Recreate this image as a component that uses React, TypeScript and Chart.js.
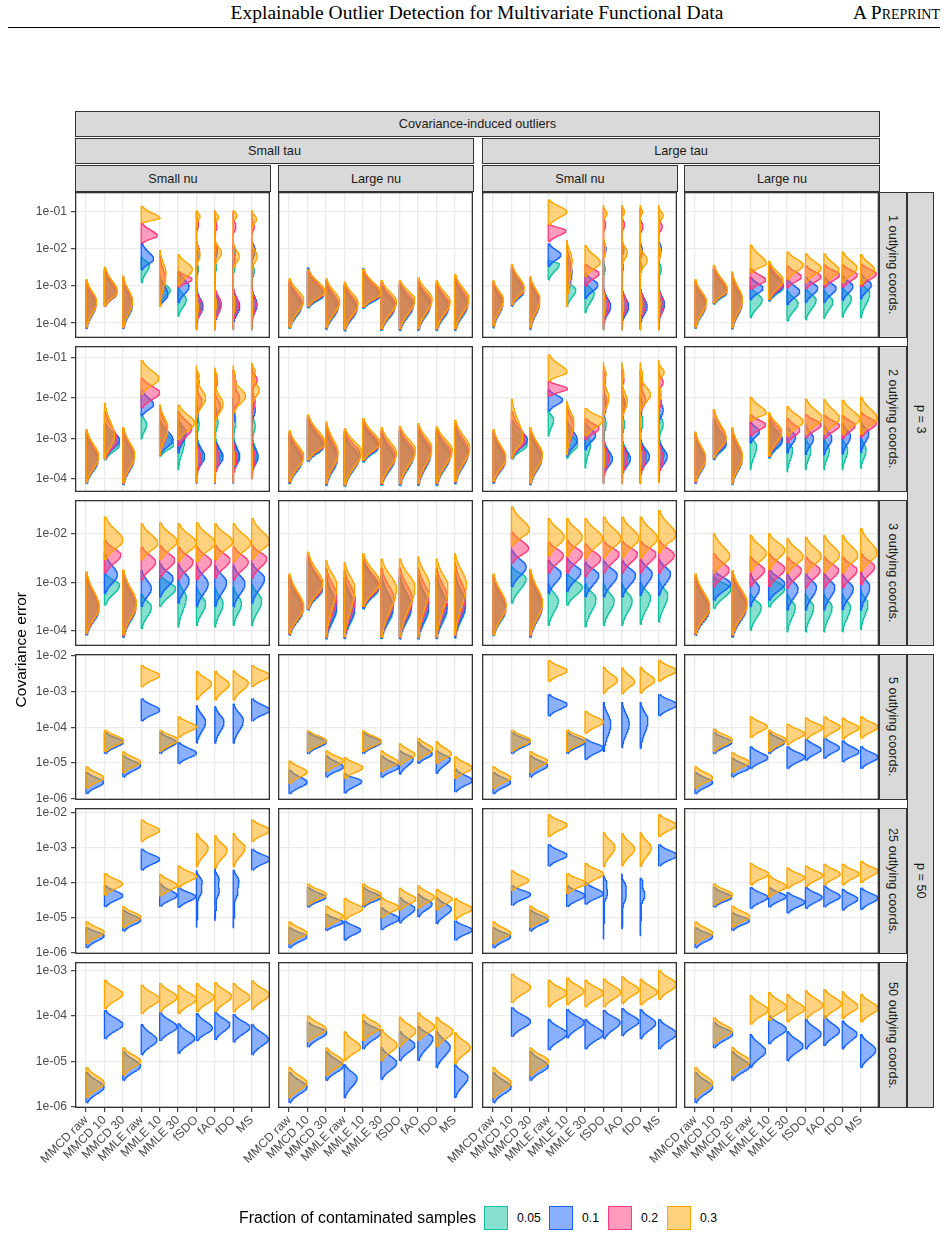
import React, { useEffect, useRef } from 'react';
import { Chart, registerables } from 'chart.js';
Chart.register(...registerables);

const SANS = '"Liberation Sans", Arial, Helvetica, sans-serif';
const SERIF = '"Liberation Serif", "Times New Roman", serif';

// ---------------- categories / labels ----------------
const CATEGORIES = ['MMCD raw', 'MMCD 10', 'MMCD 30', 'MMLE raw', 'MMLE 10', 'MMLE 30', 'fSDO', 'fAO', 'fDO', 'MS'];
const FRACTIONS = ['0.05', '0.1', '0.2', '0.3'];
const FRACTION_COLORS = ['#10C29F', '#1561FF', '#FF397B', '#FFA500'];
const FRACTION_FILLS = ['rgba(16,194,159,0.5)', 'rgba(21,97,255,0.5)', 'rgba(255,57,123,0.5)', 'rgba(255,165,0,0.5)'];
const COL_LABELS = ['Small nu', 'Large nu', 'Small nu', 'Large nu'];
const TAU_LABELS = ['Small tau', 'Large tau'];
const TOP_LABEL = 'Covariance-induced outliers';
const ROW_LABELS = ['1 outlying coords.', '2 outlying coords.', '3 outlying coords.', '5 outlying coords.', '25 outlying coords.', '50 outlying coords.'];
const P_LABELS = ['p = 3', 'p = 50'];
const Y_TITLE = 'Covariance error';
const LEGEND_TITLE = 'Fraction of contaminated samples';

// y axis limits per row (log10 of covariance error) and decade ticks
const ROW_LOG_MIN = [-4.4, -4.33, -4.32, -6.05, -6.05, -6.02];
const ROW_LOG_MAX = [-0.47, -0.71, -1.3, -1.94, -1.86, -2.82];
const ROW_DECADES = [[-4, -3, -2, -1], [-4, -3, -2, -1], [-4, -3, -2], [-6, -5, -4, -3, -2], [-6, -5, -4, -3, -2], [-6, -5, -4, -3]];
const X_MIN = 0.4;
const X_MAX = 11.0;

// ---------------- violin data ----------------
// single-mode violin: [upper end, mode, lower end, peak half-width]   (log10 values)
// multi-mode violin:  [upper end, lower end, [mode, width, sd], ...]
const R1C1_F05 = [[-2.95, -3.55, -4.15, 0.5], [-2.6, -3.22, -3.55, 0.62], [-2.85, -3.55, -4.15, 0.5], [-2.21, -2.42, -2.92, 0.45], [-2.8, -3.12, -3.45, 0.58], [-3.01, -3.37, -3.82, 0.45],
  [-2.3, -4.15, [-2.55, 0.12, 0.1], [-3.5, 0.25, 0.2]], [-2.3, -4.15, [-2.5, 0.1, 0.1], [-3.5, 0.25, 0.2]], [-2.3, -4.15, [-2.5, 0.1, 0.1], [-3.5, 0.25, 0.2]], [-2.3, -4.15, [-2.6, 0.15, 0.12], [-3.5, 0.22, 0.2]]];
const R1C1_F10 = [[-2.9, -3.5, -4.15, 0.52], [-2.55, -3.2, -3.55, 0.66], [-2.8, -3.5, -4.15, 0.5], [-1.83, -2.28, -2.57, 0.67], [-2.7, -3.24, -3.55, 0.45], [-2.6, -3.01, -3.46, 0.6],
  [-1.9, -4.18, [-2.1, 0.18, 0.15], [-3.55, 0.36, 0.2]], [-1.9, -4.18, [-2.05, 0.15, 0.15], [-3.55, 0.3, 0.2]], [-1.9, -4.18, [-2.1, 0.12, 0.15], [-3.55, 0.36, 0.2]], [-1.85, -4.18, [-2.05, 0.2, 0.15], [-3.5, 0.3, 0.2]]];
const R1C1_F20 = [[-2.85, -3.45, -4.12, 0.55], [-2.52, -3.18, -3.55, 0.68], [-2.75, -3.45, -4.13, 0.52], [-1.3, -1.65, -1.85, 0.87], [-2.2, -2.8, -3.55, 0.3], [-2.6, -2.82, -3.05, 0.76],
  [-1.0, -4.15, [-1.35, 0.12, 0.1], [-2.0, 0.1, 0.12], [-2.55, 0.08, 0.1], [-3.55, 0.3, 0.2]], [-1.0, -4.15, [-1.4, 0.12, 0.1], [-2.0, 0.1, 0.1], [-3.5, 0.36, 0.2]],
  [-1.0, -4.15, [-1.4, 0.15, 0.1], [-2.3, 0.1, 0.1], [-3.5, 0.3, 0.2]], [-1.0, -4.15, [-1.4, 0.15, 0.1], [-2.0, 0.12, 0.1], [-3.5, 0.25, 0.2]]];
const R1C1_F30 = [[-2.81, -3.42, -4.12, 0.58], [-2.48, -3.15, -3.55, 0.7], [-2.72, -3.42, -4.13, 0.53], [-0.85, -1.18, -1.31, 1.0], [-2.03, -2.66, -3.55, 0.35], [-2.14, -2.55, -3.01, 0.78],
  [-0.96, -4.18, [-1.13, 0.2, 0.08], [-2.15, 0.2, 0.15], [-3.6, 0.1, 0.2]], [-0.96, -4.18, [-1.15, 0.2, 0.08], [-2.1, 0.36, 0.15], [-3.5, 0.08, 0.2]],
  [-0.96, -4.18, [-1.1, 0.2, 0.08], [-2.2, 0.33, 0.15], [-3.5, 0.08, 0.2]], [-0.96, -4.18, [-1.2, 0.27, 0.1], [-2.2, 0.3, 0.15], [-3.5, 0.08, 0.2]]];

const R1C2_F05 = [[-2.95, -3.58, -4.16, 0.64], [-2.62, -3.27, -3.6, 0.85], [-2.95, -3.62, -4.18, 0.62], [-3.05, -3.66, -4.22, 0.64], [-2.65, -3.3, -3.62, 0.88], [-3.0, -3.62, -4.21, 0.7], [-3.0, -3.58, -4.21, 0.7], [-2.95, -3.56, -4.21, 0.64], [-3.0, -3.62, -4.21, 0.64], [-2.85, -3.56, -4.21, 0.66]];
const R1C2_F10 = [[-2.9, -3.52, -4.14, 0.68], [-2.5, -3.24, -3.58, 0.88], [-2.9, -3.56, -4.16, 0.66], [-3.0, -3.6, -4.2, 0.68], [-2.52, -3.27, -3.6, 0.92], [-2.95, -3.56, -4.19, 0.74], [-2.95, -3.52, -4.19, 0.74], [-2.9, -3.5, -4.19, 0.68], [-2.95, -3.56, -4.19, 0.68], [-2.8, -3.5, -4.19, 0.7]];
const R1C2_F20 = [[-2.85, -3.45, -4.12, 0.72], [-2.6, -3.2, -3.56, 0.9], [-2.85, -3.5, -4.14, 0.7], [-2.95, -3.55, -4.18, 0.72], [-2.6, -3.23, -3.58, 0.95], [-2.9, -3.5, -4.17, 0.78], [-2.9, -3.45, -4.17, 0.78], [-2.85, -3.43, -4.17, 0.72], [-2.9, -3.5, -4.17, 0.7], [-2.75, -3.42, -4.17, 0.74]];
const R1C2_F30 = [[-2.79, -3.37, -4.12, 0.8], [-2.54, -3.15, -3.55, 0.96], [-2.79, -3.42, -4.13, 0.76], [-2.88, -3.46, -4.17, 0.76], [-2.54, -3.19, -3.57, 1.0], [-2.84, -3.42, -4.16, 0.84], [-2.84, -3.37, -4.16, 0.84], [-2.77, -3.35, -4.16, 0.78], [-2.84, -3.42, -4.16, 0.76], [-2.68, -3.35, -4.16, 0.78]];

const R1C3_F05 = [[-2.95, -3.5, -4.14, 0.5], [-2.55, -3.18, -3.55, 0.64], [-2.86, -3.5, -4.18, 0.5], [-2.3, -2.41, -2.84, 0.6], [-2.84, -3.1, -3.55, 0.5], [-2.88, -3.19, -3.73, 0.5],
  [-2.3, -4.15, [-2.55, 0.1, 0.1], [-3.5, 0.3, 0.2]], [-2.3, -4.15, [-2.5, 0.1, 0.1], [-3.5, 0.3, 0.2]], [-2.3, -4.15, [-2.5, 0.1, 0.1], [-3.5, 0.3, 0.2]], [-2.3, -4.15, [-2.55, 0.15, 0.12], [-3.45, 0.25, 0.2]]];
const R1C3_F10 = [[-2.92, -3.46, -4.12, 0.52], [-2.5, -3.14, -3.54, 0.66], [-2.82, -3.46, -4.16, 0.5], [-1.85, -2.16, -2.48, 0.69], [-2.2, -2.6, -3.4, 0.3], [-2.65, -2.97, -3.35, 0.7],
  [-1.8, -4.18, [-2.0, 0.15, 0.12], [-3.55, 0.4, 0.2]], [-1.8, -4.18, [-2.0, 0.12, 0.12], [-3.55, 0.38, 0.2]], [-1.8, -4.18, [-2.05, 0.12, 0.12], [-3.55, 0.38, 0.2]], [-1.8, -4.18, [-2.0, 0.15, 0.12], [-3.5, 0.33, 0.2]]];
const R1C3_F20 = [[-2.88, -3.42, -4.1, 0.54], [-2.45, -3.1, -3.52, 0.68], [-2.77, -3.42, -4.14, 0.53], [-1.33, -1.51, -1.81, 0.96], [-1.9, -2.5, -3.55, 0.25], [-2.4, -2.66, -3.0, 0.76],
  [-0.9, -4.15, [-1.35, 0.12, 0.1], [-2.0, 0.1, 0.12], [-3.55, 0.3, 0.2]], [-0.9, -4.15, [-1.35, 0.15, 0.1], [-2.05, 0.1, 0.1], [-3.5, 0.3, 0.2]],
  [-0.9, -4.15, [-1.4, 0.15, 0.1], [-2.1, 0.1, 0.1], [-3.5, 0.3, 0.2]], [-0.9, -4.15, [-1.4, 0.2, 0.1], [-2.1, 0.1, 0.1], [-3.5, 0.28, 0.2]]];
const R1C3_F30 = [[-2.84, -3.37, -4.09, 0.56], [-2.41, -3.06, -3.51, 0.7], [-2.73, -3.37, -4.13, 0.55], [-0.67, -1.0, -1.36, 1.0], [-1.76, -2.3, -3.55, 0.3], [-1.9, -2.37, -2.75, 0.82],
  [-0.82, -4.18, [-1.05, 0.2, 0.08], [-2.0, 0.12, 0.15], [-3.5, 0.1, 0.2]], [-0.82, -4.18, [-1.0, 0.15, 0.08], [-2.1, 0.3, 0.15], [-3.5, 0.1, 0.2]],
  [-0.82, -4.18, [-1.0, 0.12, 0.08], [-2.3, 0.38, 0.15], [-3.5, 0.1, 0.2]], [-0.82, -4.18, [-1.1, 0.25, 0.1], [-2.1, 0.12, 0.12], [-3.5, 0.08, 0.2]]];

const R1C4_F05 = [[-2.95, -3.55, -4.15, 0.56], [-2.55, -3.2, -3.5, 0.7], [-2.75, -3.5, -4.17, 0.53], [-3.01, -3.37, -3.86, 0.65], [-2.5, -3.05, -3.42, 0.78], [-3.12, -3.46, -3.95, 0.6], [-3.05, -3.37, -3.91, 0.58], [-3.1, -3.42, -3.88, 0.5], [-3.02, -3.33, -3.84, 0.5], [-2.9, -3.19, -3.86, 0.5]];
const R1C4_F10 = [[-2.9, -3.5, -4.14, 0.58], [-2.52, -3.16, -3.48, 0.72], [-2.7, -3.45, -4.15, 0.55], [-2.75, -3.06, -3.37, 0.69], [-2.45, -3.0, -3.4, 0.8], [-2.8, -3.15, -3.51, 0.69], [-2.75, -3.06, -3.45, 0.67], [-2.75, -3.06, -3.45, 0.67], [-2.7, -3.01, -3.4, 0.58], [-2.65, -2.97, -3.35, 0.58]];
const R1C4_F20 = [[-2.86, -3.46, -4.12, 0.6], [-2.47, -3.13, -3.47, 0.74], [-2.65, -3.41, -4.14, 0.56], [-2.52, -2.84, -3.1, 0.84], [-2.4, -2.95, -3.38, 0.78], [-2.45, -2.75, -3.05, 0.78], [-2.45, -2.75, -3.08, 0.85], [-2.42, -2.7, -3.05, 0.85], [-2.42, -2.7, -3.05, 0.82], [-2.4, -2.67, -3.02, 0.85]];
const R1C4_F30 = [[-2.82, -3.42, -4.12, 0.62], [-2.43, -3.1, -3.46, 0.76], [-2.61, -3.37, -4.13, 0.58], [-1.88, -2.39, -2.66, 0.87], [-2.32, -2.84, -3.37, 0.78], [-2.07, -2.43, -2.84, 0.87], [-2.12, -2.52, -2.92, 0.85], [-2.12, -2.57, -2.97, 0.82], [-2.07, -2.52, -2.92, 0.8], [-2.14, -2.57, -2.97, 0.76]];

const R2C1_F05 = [[-2.9, -3.6, -4.12, 0.6], [-2.7, -3.16, -3.54, 0.82], [-2.85, -3.55, -4.15, 0.58], [-2.37, -2.66, -3.02, 0.3], [-2.62, -3.16, -3.45, 0.75], [-2.5, -3.04, -3.78, 0.36],
  [-2.3, -4.1, [-2.65, 0.15, 0.15], [-3.4, 0.35, 0.2]], [-2.3, -4.1, [-2.6, 0.18, 0.15], [-3.4, 0.35, 0.2]], [-2.3, -4.1, [-2.6, 0.15, 0.15], [-3.4, 0.3, 0.2]], [-2.3, -4.0, [-2.7, 0.2, 0.15], [-3.4, 0.3, 0.2]]];
const R2C1_F10 = [[-2.85, -3.55, -4.12, 0.64], [-2.62, -3.04, -3.52, 0.82], [-2.8, -3.5, -4.15, 0.6], [-1.79, -2.16, -2.45, 0.67], [-2.54, -3.04, -3.41, 0.73], [-2.5, -2.87, -3.37, 0.45],
  [-2.0, -4.12, [-2.4, 0.1, 0.15], [-3.45, 0.45, 0.18]], [-2.0, -4.12, [-2.4, 0.1, 0.15], [-3.45, 0.45, 0.18]], [-2.0, -4.12, [-2.4, 0.1, 0.15], [-3.45, 0.36, 0.18]], [-1.9, -4.0, [-2.3, 0.2, 0.15], [-3.45, 0.36, 0.18]]];
const R2C1_F20 = [[-2.8, -3.5, -4.1, 0.66], [-2.33, -3.04, -3.52, 0.7], [-2.76, -3.45, -4.13, 0.62], [-1.5, -1.87, -2.25, 1.0], [-2.2, -2.85, -3.42, 0.42], [-2.33, -2.75, -3.2, 0.75],
  [-1.3, -4.1, [-1.6, 0.15, 0.1], [-2.1, 0.3, 0.15], [-3.5, 0.25, 0.2]], [-1.3, -4.1, [-1.6, 0.15, 0.1], [-2.2, 0.3, 0.15], [-3.5, 0.25, 0.2]],
  [-1.3, -4.1, [-1.6, 0.15, 0.1], [-2.0, 0.35, 0.15], [-3.5, 0.2, 0.2]], [-1.25, -4.0, [-1.55, 0.3, 0.12], [-2.1, 0.2, 0.15], [-3.5, 0.2, 0.2]]];
const R2C1_F30 = [[-2.77, -3.45, -4.1, 0.69], [-2.12, -2.95, -3.52, 0.55], [-2.72, -3.41, -4.12, 0.65], [-1.06, -1.52, -1.91, 0.96], [-2.16, -2.75, -3.41, 0.45], [-2.16, -2.62, -3.04, 0.9],
  [-1.2, -4.1, [-1.45, 0.15, 0.08], [-2.0, 0.5, 0.2], [-3.5, 0.06, 0.2]], [-1.25, -4.1, [-1.5, 0.15, 0.1], [-2.15, 0.45, 0.2], [-3.5, 0.06, 0.2]],
  [-1.2, -4.1, [-1.45, 0.1, 0.1], [-1.95, 0.67, 0.18], [-3.5, 0.06, 0.2]], [-1.13, -4.0, [-1.35, 0.2, 0.1], [-1.8, 0.42, 0.15], [-3.5, 0.06, 0.2]]];

const R2C2_F05 = [[-2.95, -3.6, -4.14, 0.66], [-2.55, -3.25, -3.58, 0.82], [-2.78, -3.54, -4.18, 0.6], [-2.95, -3.52, -4.2, 0.76], [-2.65, -3.25, -3.6, 0.82], [-2.92, -3.55, -4.18, 0.7], [-2.88, -3.47, -4.18, 0.72], [-2.82, -3.42, -4.18, 0.66], [-2.88, -3.47, -4.18, 0.72], [-2.76, -3.42, -4.14, 0.68]];
const R2C2_F10 = [[-2.9, -3.55, -4.12, 0.7], [-2.5, -3.21, -3.57, 0.86], [-2.72, -3.49, -4.16, 0.62], [-2.9, -3.47, -4.18, 0.8], [-2.6, -3.21, -3.58, 0.85], [-2.87, -3.5, -4.16, 0.74], [-2.82, -3.42, -4.16, 0.76], [-2.77, -3.37, -4.16, 0.7], [-2.82, -3.42, -4.16, 0.76], [-2.7, -3.37, -4.12, 0.72]];
const R2C2_F20 = [[-2.85, -3.5, -4.1, 0.74], [-2.46, -3.17, -3.55, 0.9], [-2.65, -3.43, -4.14, 0.64], [-2.82, -3.4, -4.17, 0.86], [-2.56, -3.17, -3.56, 0.88], [-2.8, -3.44, -4.14, 0.78], [-2.76, -3.36, -4.14, 0.8], [-2.7, -3.31, -4.14, 0.72], [-2.76, -3.36, -4.14, 0.8], [-2.62, -3.31, -4.1, 0.76]];
const R2C2_F30 = [[-2.8, -3.45, -4.08, 0.8], [-2.41, -3.12, -3.54, 0.96], [-2.58, -3.37, -4.12, 0.67], [-2.75, -3.33, -4.16, 0.94], [-2.5, -3.12, -3.55, 0.93], [-2.72, -3.37, -4.12, 0.84], [-2.69, -3.29, -4.12, 0.87], [-2.62, -3.24, -4.12, 0.76], [-2.7, -3.29, -4.12, 0.87], [-2.54, -3.24, -4.08, 0.82]];

const R2C3_F05 = [[-2.9, -3.6, -4.12, 0.62], [-2.7, -3.16, -3.52, 0.85], [-2.85, -3.55, -4.15, 0.6], [-2.29, -2.54, -2.95, 0.3], [-2.7, -3.16, -3.5, 0.6], [-2.8, -3.12, -3.74, 0.3],
  [-2.3, -4.1, [-2.65, 0.15, 0.15], [-3.45, 0.35, 0.2]], [-2.3, -4.1, [-2.65, 0.15, 0.15], [-3.45, 0.35, 0.2]], [-2.3, -4.1, [-2.6, 0.15, 0.15], [-3.45, 0.35, 0.2]], [-2.3, -4.0, [-2.65, 0.25, 0.15], [-3.4, 0.3, 0.2]]];
const R2C3_F10 = [[-2.85, -3.56, -4.12, 0.66], [-2.54, -3.04, -3.49, 0.87], [-2.8, -3.5, -4.15, 0.64], [-1.79, -2.04, -2.33, 0.78], [-2.54, -3.04, -3.45, 0.58], [-2.62, -2.91, -3.29, 0.58],
  [-1.9, -4.12, [-2.2, 0.15, 0.15], [-3.5, 0.49, 0.18]], [-1.9, -4.12, [-2.2, 0.15, 0.15], [-3.5, 0.47, 0.18]], [-1.9, -4.12, [-2.2, 0.12, 0.15], [-3.45, 0.5, 0.18]], [-1.85, -4.05, [-2.3, 0.25, 0.15], [-3.45, 0.47, 0.18]]];
const R2C3_F20 = [[-2.8, -3.52, -4.1, 0.68], [-2.33, -3.04, -3.5, 0.75], [-2.76, -3.45, -4.13, 0.66], [-1.58, -1.77, -1.96, 1.05], [-2.2, -2.7, -3.42, 0.38], [-2.5, -2.75, -3.04, 0.76],
  [-1.3, -4.1, [-1.55, 0.12, 0.1], [-2.1, 0.2, 0.15], [-3.5, 0.3, 0.2]], [-1.3, -4.1, [-1.55, 0.12, 0.1], [-2.15, 0.2, 0.15], [-3.5, 0.3, 0.2]],
  [-1.3, -4.1, [-1.6, 0.12, 0.1], [-2.05, 0.3, 0.15], [-3.5, 0.3, 0.2]], [-1.2, -4.1, [-1.6, 0.25, 0.1], [-2.1, 0.15, 0.12], [-3.5, 0.25, 0.2]]];
const R2C3_F30 = [[-2.77, -3.49, -4.08, 0.7], [-2.02, -3.0, -3.49, 0.62], [-2.72, -3.41, -4.12, 0.69], [-0.92, -1.36, -1.58, 1.02], [-2.08, -2.58, -3.41, 0.4], [-2.25, -2.54, -2.95, 1.0],
  [-1.12, -4.12, [-1.4, 0.15, 0.1], [-2.0, 0.3, 0.2], [-3.5, 0.06, 0.2]], [-1.12, -4.12, [-1.4, 0.12, 0.1], [-2.08, 0.3, 0.2], [-3.5, 0.06, 0.2]],
  [-1.12, -4.12, [-1.4, 0.12, 0.1], [-1.91, 0.56, 0.18], [-3.5, 0.06, 0.2]], [-1.06, -4.1, [-1.36, 0.3, 0.1], [-1.9, 0.15, 0.12], [-3.5, 0.06, 0.2]]];

const R2C4_F05 = [[-2.95, -3.6, -4.12, 0.52], [-2.6, -3.16, -3.54, 0.68], [-2.85, -3.56, -4.15, 0.52], [-2.91, -3.2, -3.78, 0.35], [-2.6, -3.08, -3.5, 0.72], [-3.0, -3.29, -3.83, 0.3], [-2.98, -3.29, -3.78, 0.3], [-2.98, -3.29, -3.78, 0.3], [-2.98, -3.29, -3.78, 0.3], [-2.95, -3.29, -3.75, 0.3]];
const R2C4_F10 = [[-2.9, -3.56, -4.12, 0.54], [-2.5, -3.12, -3.52, 0.7], [-2.8, -3.52, -4.14, 0.55], [-2.58, -2.83, -3.12, 0.5], [-2.5, -3.04, -3.48, 0.75], [-2.7, -2.95, -3.37, 0.47], [-2.66, -3.0, -3.41, 0.44], [-2.66, -3.0, -3.41, 0.44], [-2.62, -2.95, -3.4, 0.45], [-2.58, -2.87, -3.35, 0.45]];
const R2C4_F20 = [[-2.86, -3.52, -4.1, 0.56], [-2.3, -3.04, -3.5, 0.68], [-2.76, -3.48, -4.13, 0.56], [-2.41, -2.66, -2.95, 0.84], [-2.4, -2.9, -3.46, 0.7], [-2.5, -2.79, -3.12, 0.69], [-2.4, -2.66, -3.0, 0.85], [-2.42, -2.68, -3.02, 0.85], [-2.42, -2.68, -3.02, 0.7], [-2.35, -2.62, -2.98, 0.85]];
const R2C4_F30 = [[-2.83, -3.49, -4.08, 0.58], [-2.27, -3.0, -3.49, 0.7], [-2.72, -3.45, -4.12, 0.58], [-1.97, -2.37, -2.58, 0.87], [-2.35, -2.83, -3.45, 0.72], [-2.2, -2.58, -2.95, 0.87], [-2.02, -2.5, -2.91, 0.9], [-2.02, -2.5, -2.91, 0.85], [-2.04, -2.52, -2.91, 0.95], [-1.97, -2.5, -2.91, 0.9]];

const R3C1_F05 = [[-2.9, -3.6, -4.1, 0.66], [-2.82, -3.06, -3.48, 0.82], [-2.85, -3.55, -4.15, 0.68], [-3.24, -3.51, -3.97, 0.55], [-2.85, -3.13, -3.51, 0.87], [-2.96, -3.31, -3.93, 0.45], [-3.1, -3.44, -3.9, 0.5], [-3.1, -3.44, -3.93, 0.45], [-3.1, -3.44, -3.9, 0.45], [-3.03, -3.38, -3.9, 0.55]];
const R3C1_F10 = [[-2.85, -3.57, -4.1, 0.68], [-2.4, -2.85, -3.24, 0.7], [-2.8, -3.5, -4.14, 0.7], [-2.75, -3.13, -3.51, 0.55], [-2.61, -2.92, -3.31, 0.73], [-2.61, -2.96, -3.44, 0.6], [-2.65, -3.03, -3.51, 0.64], [-2.65, -3.0, -3.51, 0.64], [-2.65, -3.03, -3.51, 0.64], [-2.6, -2.92, -3.44, 0.7]];
const R3C1_F20 = [[-2.8, -3.54, -4.08, 0.7], [-2.13, -2.44, -2.82, 0.89], [-2.76, -3.47, -4.12, 0.72], [-2.26, -2.58, -2.96, 0.78], [-2.23, -2.54, -2.92, 0.82], [-2.26, -2.58, -2.96, 0.82], [-2.26, -2.58, -2.96, 0.82], [-2.23, -2.54, -2.92, 0.82], [-2.26, -2.58, -2.96, 0.82], [-2.23, -2.51, -2.92, 0.82]];
const R3C1_F30 = [[-2.78, -3.51, -4.07, 0.72], [-1.64, -2.13, -2.54, 1.0], [-2.74, -3.44, -4.1, 0.74], [-1.78, -2.19, -2.54, 0.9], [-1.76, -2.16, -2.54, 0.95], [-1.78, -2.19, -2.58, 1.0], [-1.76, -2.19, -2.58, 1.0], [-1.78, -2.16, -2.54, 0.96], [-1.78, -2.19, -2.58, 0.95], [-1.67, -2.16, -2.54, 0.96]];

const R3C2_F05 = [[-2.92, -3.62, -4.1, 0.72], [-2.55, -3.15, -3.58, 0.8], [-2.9, -3.56, -4.18, 0.58], [-2.95, -3.58, -4.18, 0.56], [-2.6, -3.14, -3.56, 0.86], [-2.9, -3.58, -4.18, 0.64], [-2.9, -3.56, -4.18, 0.62], [-2.9, -3.56, -4.18, 0.58], [-2.9, -3.56, -4.18, 0.58], [-2.85, -3.52, -4.16, 0.58]];
const R3C2_F10 = [[-2.88, -3.58, -4.1, 0.74], [-2.5, -3.12, -3.57, 0.82], [-2.85, -3.5, -4.17, 0.6], [-2.9, -3.52, -4.17, 0.58], [-2.55, -3.1, -3.55, 0.88], [-2.85, -3.52, -4.17, 0.66], [-2.85, -3.5, -4.17, 0.66], [-2.85, -3.5, -4.17, 0.6], [-2.85, -3.5, -4.17, 0.6], [-2.8, -3.45, -4.15, 0.6]];
const R3C2_F20 = [[-2.85, -3.55, -4.08, 0.76], [-2.45, -3.1, -3.56, 0.8], [-2.7, -3.3, -4.15, 0.6], [-2.75, -3.35, -4.15, 0.6], [-2.5, -3.08, -3.52, 0.88], [-2.7, -3.35, -4.15, 0.7], [-2.7, -3.35, -4.15, 0.7], [-2.7, -3.3, -4.15, 0.6], [-2.7, -3.32, -4.15, 0.6], [-2.6, -3.3, -4.12, 0.6]];
const R3C2_F30 = [[-2.82, -3.51, -4.07, 0.8], [-2.37, -3.03, -3.55, 0.84], [-2.54, -3.06, -4.14, 0.6], [-2.58, -3.13, -4.14, 0.58], [-2.4, -3.01, -3.51, 0.93], [-2.51, -3.13, -4.14, 0.84], [-2.51, -3.1, -4.14, 0.84], [-2.47, -3.06, -4.14, 0.64], [-2.51, -3.1, -4.14, 0.64], [-2.4, -3.03, -4.1, 0.64]];

const R3C3_F05 = [[-2.92, -3.6, -4.12, 0.66], [-2.68, -2.92, -3.44, 0.8], [-2.85, -3.55, -4.15, 0.64], [-3.03, -3.38, -3.9, 0.55], [-2.82, -3.1, -3.48, 0.85], [-3.03, -3.34, -3.93, 0.6], [-3.03, -3.38, -3.9, 0.58], [-3.03, -3.38, -3.9, 0.56], [-3.0, -3.31, -3.88, 0.56], [-2.96, -3.27, -3.83, 0.5]];
const R3C3_F10 = [[-2.88, -3.55, -4.1, 0.68], [-2.33, -2.68, -3.1, 0.8], [-2.8, -3.5, -4.14, 0.66], [-2.54, -2.82, -3.24, 0.7], [-2.5, -2.78, -3.2, 0.78], [-2.58, -2.85, -3.31, 0.75], [-2.55, -2.85, -3.31, 0.75], [-2.55, -2.85, -3.31, 0.75], [-2.52, -2.82, -3.28, 0.65], [-2.52, -2.82, -3.28, 0.65]];
const R3C3_F20 = [[-2.85, -3.52, -4.1, 0.7], [-1.95, -2.3, -2.61, 0.93], [-2.75, -3.47, -4.12, 0.68], [-2.16, -2.44, -2.82, 0.82], [-2.13, -2.41, -2.82, 0.85], [-2.2, -2.51, -2.89, 0.85], [-2.15, -2.41, -2.82, 0.85], [-2.15, -2.41, -2.82, 0.85], [-2.15, -2.41, -2.82, 0.85], [-2.13, -2.44, -2.82, 0.85]];
const R3C3_F30 = [[-2.82, -3.48, -4.1, 0.72], [-1.43, -1.92, -2.26, 0.98], [-2.72, -3.44, -4.1, 0.7], [-1.67, -2.06, -2.47, 0.87], [-1.67, -2.06, -2.47, 0.85], [-1.67, -2.09, -2.51, 0.95], [-1.64, -2.09, -2.51, 0.95], [-1.64, -2.09, -2.51, 0.93], [-1.64, -2.09, -2.51, 0.93], [-1.51, -2.02, -2.4, 0.93]];

const R3C4_F05 = [[-2.95, -3.62, -4.1, 0.74], [-2.89, -3.13, -3.55, 0.95], [-2.86, -3.56, -4.15, 0.76], [-3.24, -3.51, -4.0, 0.6], [-2.85, -3.13, -3.52, 0.87], [-3.24, -3.51, -4.03, 0.45], [-3.24, -3.51, -4.03, 0.45], [-3.24, -3.51, -4.03, 0.45], [-3.24, -3.51, -4.03, 0.45], [-3.17, -3.44, -3.98, 0.4]];
const R3C4_F10 = [[-2.9, -3.58, -4.1, 0.76], [-2.75, -3.03, -3.38, 0.93], [-2.82, -3.52, -4.14, 0.78], [-2.82, -3.13, -3.51, 0.5], [-2.72, -3.03, -3.38, 0.87], [-2.82, -3.13, -3.58, 0.6], [-2.8, -3.1, -3.58, 0.6], [-2.8, -3.1, -3.58, 0.6], [-2.82, -3.13, -3.58, 0.6], [-2.78, -3.1, -3.58, 0.5]];
const R3C4_F20 = [[-2.86, -3.55, -4.08, 0.78], [-2.4, -2.75, -3.1, 0.85], [-2.78, -3.48, -4.12, 0.8], [-2.47, -2.75, -3.1, 0.78], [-2.4, -2.72, -3.1, 0.87], [-2.47, -2.75, -3.13, 0.78], [-2.47, -2.75, -3.13, 0.8], [-2.47, -2.75, -3.13, 0.8], [-2.47, -2.75, -3.13, 0.8], [-2.4, -2.68, -3.06, 0.76]];
const R3C4_F30 = [[-2.82, -3.51, -4.07, 0.8], [-1.99, -2.47, -2.82, 0.89], [-2.75, -3.44, -4.1, 0.84], [-2.02, -2.4, -2.78, 0.87], [-1.99, -2.33, -2.75, 0.87], [-2.09, -2.47, -2.82, 0.87], [-2.06, -2.47, -2.82, 0.87], [-2.02, -2.44, -2.82, 0.85], [-2.02, -2.44, -2.82, 0.85], [-1.88, -2.4, -2.78, 0.89]];

const R4C1_F10 = [[-5.26, -5.55, -5.88, 0.95], [-4.14, -4.42, -4.75, 1.02], [-4.79, -5.08, -5.41, 0.96], [-3.19, -3.52, -3.83, 1.0], [-4.14, -4.42, -4.75, 0.91], [-4.42, -4.73, -5.03, 1.0], [-3.38, -3.85, -4.45, 0.5], [-3.41, -3.85, -4.46, 0.5], [-3.34, -3.81, -4.46, 0.55], [-3.19, -3.52, -3.83, 1.0]];
const R4C1_F30 = [[-5.1, -5.42, -5.73, 0.95], [-4.07, -4.37, -4.7, 1.04], [-4.68, -4.98, -5.29, 0.96], [-2.25, -2.54, -2.87, 1.0], [-4.07, -4.35, -4.7, 1.0], [-3.69, -3.99, -4.3, 1.0], [-2.41, -2.77, -3.24, 0.82], [-2.41, -2.79, -3.24, 0.78], [-2.4, -2.75, -3.24, 0.82], [-2.25, -2.54, -2.87, 1.0]];
const R4C2_F10 = [[-5.2, -5.55, -5.88, 0.98], [-4.14, -4.42, -4.75, 1.02], [-4.79, -5.12, -5.41, 0.95], [-5.31, -5.52, -5.86, 0.95], [-4.14, -4.42, -4.75, 1.0], [-4.79, -5.12, -5.42, 0.98], [-4.65, -4.89, -5.33, 0.75], [-4.42, -4.75, -5.03, 0.78], [-4.65, -4.89, -5.31, 0.76], [-5.17, -5.5, -5.83, 0.96]];
const R4C2_F30 = [[-4.94, -5.26, -5.59, 0.98], [-4.09, -4.37, -4.7, 1.02], [-4.65, -4.94, -5.26, 0.95], [-4.84, -5.14, -5.45, 1.0], [-4.09, -4.39, -4.7, 1.02], [-4.65, -4.98, -5.26, 0.93], [-4.45, -4.77, -5.08, 0.84], [-4.3, -4.61, -4.94, 0.82], [-4.39, -4.75, -5.03, 0.82], [-4.82, -5.14, -5.45, 0.96]];
const R4C3_F10 = [[-5.26, -5.55, -5.88, 0.95], [-4.14, -4.42, -4.75, 1.03], [-4.79, -5.08, -5.41, 0.96], [-3.07, -3.36, -3.69, 1.02], [-4.14, -4.42, -4.75, 1.0], [-4.32, -4.58, -4.92, 1.0], [-3.29, -3.9, -4.7, 0.4], [-3.29, -3.9, -4.58, 0.4], [-3.29, -3.81, -4.61, 0.42], [-3.07, -3.36, -3.69, 1.0]];
const R4C3_F30 = [[-5.1, -5.42, -5.73, 0.95], [-4.07, -4.37, -4.7, 1.04], [-4.67, -4.95, -5.29, 0.96], [-2.11, -2.41, -2.72, 1.02], [-4.07, -4.35, -4.7, 1.04], [-3.54, -3.85, -4.18, 1.0], [-2.3, -2.68, -3.05, 0.76], [-2.32, -2.72, -3.07, 0.69], [-2.3, -2.68, -3.05, 0.78], [-2.11, -2.41, -2.72, 0.98]];
const R4C4_F10 = [[-5.26, -5.55, -5.88, 0.95], [-4.14, -4.42, -4.75, 1.0], [-4.86, -5.14, -5.41, 0.95], [-4.54, -4.86, -5.17, 0.96], [-4.14, -4.42, -4.75, 0.87], [-4.54, -4.84, -5.17, 0.96], [-4.32, -4.63, -4.94, 0.85], [-4.28, -4.58, -4.89, 0.85], [-4.37, -4.7, -4.98, 0.91], [-4.54, -4.84, -5.17, 0.95]];
const R4C4_F30 = [[-5.1, -5.42, -5.73, 0.95], [-4.04, -4.35, -4.7, 1.02], [-4.7, -4.98, -5.29, 0.95], [-3.69, -3.98, -4.3, 0.93], [-4.07, -4.35, -4.7, 0.96], [-3.9, -4.18, -4.51, 0.96], [-3.73, -4.01, -4.35, 0.95], [-3.69, -3.99, -4.32, 0.89], [-3.73, -4.01, -4.35, 0.91], [-3.69, -3.99, -4.32, 0.95]];

const R5C1_F10 = [[-5.28, -5.52, -5.88, 0.98], [-4.08, -4.37, -4.7, 1.0], [-4.78, -5.07, -5.4, 0.98], [-3.03, -3.33, -3.65, 1.0], [-4.03, -4.37, -4.69, 0.95], [-4.13, -4.4, -4.72, 0.96],
  [-3.65, -5.28, [-3.95, 0.27, 0.12], [-4.25, 0.27, 0.15], [-4.8, 0.08, 0.2]], [-3.57, -5.09, [-3.9, 0.22, 0.12], [-4.25, 0.24, 0.15], [-4.7, 0.08, 0.15]], [-3.63, -5.3, [-3.95, 0.3, 0.15], [-4.3, 0.22, 0.15], [-4.8, 0.08, 0.2]], [-3.03, -3.33, -3.65, 1.0]];
const R5C1_F30 = [[-5.11, -5.42, -5.76, 0.98], [-3.73, -4.03, -4.37, 0.98], [-4.68, -4.99, -5.3, 0.98], [-2.19, -2.5, -2.83, 1.0], [-3.75, -4.08, -4.4, 0.95], [-3.51, -3.82, -4.15, 1.0], [-2.58, -3.0, -3.55, 0.64], [-2.64, -3.07, -3.6, 0.67], [-2.58, -3.0, -3.55, 0.64], [-2.19, -2.5, -2.83, 1.0]];
const R5C2_F10 = [[-5.28, -5.55, -5.88, 0.97], [-4.13, -4.42, -4.71, 1.0], [-4.9, -5.14, -5.38, 0.94], [-5.09, -5.36, -5.66, 0.89], [-4.13, -4.42, -4.71, 1.0], [-4.71, -5.04, -5.36, 0.98], [-4.42, -4.75, -5.17, 0.84], [-4.32, -4.61, -4.99, 0.78], [-4.42, -4.75, -5.19, 0.82], [-5.09, -5.36, -5.66, 0.96]];
const R5C2_F30 = [[-5.11, -5.45, -5.76, 0.97], [-4.03, -4.34, -4.66, 1.03], [-4.66, -4.97, -5.3, 0.94], [-4.44, -4.75, -5.07, 1.0], [-4.03, -4.34, -4.66, 1.02], [-4.42, -4.71, -5.01, 0.98], [-4.15, -4.47, -4.8, 0.89], [-4.08, -4.42, -4.75, 0.9], [-4.18, -4.47, -4.8, 0.87], [-4.44, -4.75, -5.07, 0.96]];
const R5C3_F10 = [[-5.28, -5.55, -5.88, 0.95], [-4.08, -4.34, -4.66, 1.04], [-4.78, -5.07, -5.4, 1.0], [-2.9, -3.22, -3.53, 1.02], [-4.08, -4.37, -4.7, 1.0], [-3.99, -4.32, -4.63, 1.0],
  [-3.79, -5.62, [-4.0, 0.15, 0.1], [-4.3, 0.22, 0.15], [-4.9, 0.06, 0.25]], [-3.75, -5.33, [-4.1, 0.2, 0.12], [-4.4, 0.22, 0.15], [-4.9, 0.06, 0.2]], [-3.86, -5.52, [-4.0, 0.12, 0.1], [-4.35, 0.25, 0.15], [-4.9, 0.06, 0.25]], [-2.9, -3.22, -3.53, 1.0]];
const R5C3_F30 = [[-5.11, -5.45, -5.76, 0.95], [-3.65, -3.94, -4.24, 0.93], [-4.66, -4.99, -5.3, 1.0], [-2.04, -2.35, -2.69, 1.02], [-3.73, -4.01, -4.32, 1.04], [-3.44, -3.75, -4.08, 1.0], [-2.55, -2.98, -3.55, 0.62], [-2.58, -3.03, -3.53, 0.69], [-2.55, -3.0, -3.55, 0.6], [-2.04, -2.35, -2.69, 0.98]];
const R5C4_F10 = [[-5.28, -5.55, -5.88, 0.95], [-4.13, -4.42, -4.71, 1.0], [-4.85, -5.09, -5.38, 0.95], [-4.13, -4.42, -4.75, 0.96], [-4.13, -4.4, -4.71, 0.95], [-4.27, -4.56, -4.88, 0.96], [-4.13, -4.42, -4.75, 0.91], [-4.08, -4.4, -4.71, 0.89], [-4.18, -4.47, -4.8, 0.85], [-4.15, -4.44, -4.78, 0.95]];
const R5C4_F30 = [[-5.11, -5.45, -5.76, 0.95], [-4.03, -4.34, -4.66, 1.03], [-4.66, -4.97, -5.3, 0.98], [-3.44, -3.75, -4.08, 1.0], [-3.79, -4.11, -4.42, 0.96], [-3.57, -3.86, -4.18, 0.96], [-3.51, -3.79, -4.13, 0.95], [-3.46, -3.75, -4.08, 0.89], [-3.46, -3.75, -4.08, 0.91], [-3.38, -3.67, -4.01, 0.95]];

const R6C1_F10 = [[-5.23, -5.56, -5.91, 0.98], [-3.87, -4.19, -4.51, 1.0], [-4.77, -5.1, -5.42, 0.96], [-4.18, -4.53, -4.86, 0.85], [-3.92, -4.24, -4.55, 0.95], [-4.16, -4.49, -4.83, 0.91], [-3.94, -4.27, -4.55, 0.87], [-3.9, -4.19, -4.53, 0.82], [-3.96, -4.25, -4.58, 0.91], [-4.18, -4.51, -4.86, 0.91]];
const R6C1_F30 = [[-5.12, -5.47, -5.8, 0.98], [-3.21, -3.52, -3.85, 1.0], [-4.69, -4.99, -5.3, 0.96], [-3.32, -3.63, -3.96, 1.0], [-3.28, -3.59, -3.92, 0.95], [-3.32, -3.63, -3.96, 1.0], [-3.28, -3.59, -3.92, 0.95], [-3.26, -3.57, -3.92, 0.91], [-3.28, -3.59, -3.92, 0.91], [-3.22, -3.53, -3.87, 0.96]];
const R6C2_F10 = [[-5.23, -5.56, -5.91, 0.98], [-4.14, -4.36, -4.69, 1.05], [-4.77, -5.1, -5.42, 0.95], [-5.06, -5.36, -5.8, 0.7], [-4.1, -4.36, -4.73, 1.0], [-4.69, -5.03, -5.4, 0.85], [-4.33, -4.64, -4.99, 0.84], [-4.22, -4.49, -4.99, 0.82], [-4.33, -4.68, -5.14, 0.76], [-5.06, -5.34, -5.8, 0.73]];
const R6C2_F30 = [[-5.12, -5.47, -5.8, 0.98], [-3.99, -4.29, -4.58, 1.02], [-4.69, -5.0, -5.32, 0.95], [-4.34, -4.69, -4.99, 0.89], [-3.96, -4.24, -4.55, 0.96], [-4.29, -4.64, -4.99, 0.87], [-4.02, -4.33, -4.69, 0.89], [-3.92, -4.24, -4.55, 0.91], [-4.02, -4.34, -4.69, 0.91], [-4.36, -4.69, -5.06, 0.85]];
const R6C3_F10 = [[-5.23, -5.56, -5.91, 0.98], [-3.81, -4.12, -4.46, 1.04], [-4.77, -5.1, -5.42, 1.0], [-4.07, -4.39, -4.75, 1.02], [-3.85, -4.14, -4.49, 0.95], [-4.07, -4.39, -4.73, 1.0], [-3.87, -4.14, -4.51, 0.91], [-3.83, -4.12, -4.44, 0.93], [-3.85, -4.16, -4.51, 0.84], [-4.07, -4.39, -4.73, 0.98]];
const R6C3_F30 = [[-5.12, -5.47, -5.8, 0.98], [-3.07, -3.37, -3.72, 1.04], [-4.69, -4.99, -5.32, 1.02], [-3.21, -3.5, -3.81, 1.02], [-3.16, -3.46, -3.77, 0.95], [-3.21, -3.5, -3.81, 1.0], [-3.18, -3.48, -3.81, 0.95], [-3.13, -3.43, -3.74, 0.93], [-3.18, -3.48, -3.77, 0.93], [-2.99, -3.31, -3.65, 0.98]];
const R6C4_F10 = [[-5.23, -5.56, -5.91, 0.95], [-4.14, -4.39, -4.71, 1.05], [-4.77, -5.1, -5.42, 0.98], [-4.4, -4.77, -5.14, 0.84], [-3.99, -4.29, -4.62, 0.96], [-4.33, -4.66, -4.99, 0.87], [-4.07, -4.4, -4.73, 0.85], [-3.99, -4.33, -4.66, 0.85], [-4.1, -4.4, -4.73, 0.8], [-4.4, -4.75, -5.14, 0.82]];
const R6C4_F30 = [[-5.12, -5.47, -5.8, 0.95], [-4.03, -4.33, -4.62, 1.02], [-4.68, -4.99, -5.32, 0.98], [-3.55, -3.87, -4.19, 0.96], [-3.48, -3.8, -4.11, 0.96], [-3.52, -3.85, -4.14, 0.96], [-3.44, -3.77, -4.07, 0.95], [-3.41, -3.74, -4.07, 0.95], [-3.46, -3.8, -4.07, 0.85], [-3.52, -3.83, -4.14, 0.95]];

// panels[row][col] = [fraction 0.05, 0.1, 0.2, 0.3] (null: not simulated)
const PANELS: any[][][] = [
  [[R1C1_F05, R1C1_F10, R1C1_F20, R1C1_F30], [R1C2_F05, R1C2_F10, R1C2_F20, R1C2_F30], [R1C3_F05, R1C3_F10, R1C3_F20, R1C3_F30], [R1C4_F05, R1C4_F10, R1C4_F20, R1C4_F30]],
  [[R2C1_F05, R2C1_F10, R2C1_F20, R2C1_F30], [R2C2_F05, R2C2_F10, R2C2_F20, R2C2_F30], [R2C3_F05, R2C3_F10, R2C3_F20, R2C3_F30], [R2C4_F05, R2C4_F10, R2C4_F20, R2C4_F30]],
  [[R3C1_F05, R3C1_F10, R3C1_F20, R3C1_F30], [R3C2_F05, R3C2_F10, R3C2_F20, R3C2_F30], [R3C3_F05, R3C3_F10, R3C3_F20, R3C3_F30], [R3C4_F05, R3C4_F10, R3C4_F20, R3C4_F30]],
  [[null, R4C1_F10, null, R4C1_F30], [null, R4C2_F10, null, R4C2_F30], [null, R4C3_F10, null, R4C3_F30], [null, R4C4_F10, null, R4C4_F30]],
  [[null, R5C1_F10, null, R5C1_F30], [null, R5C2_F10, null, R5C2_F30], [null, R5C3_F10, null, R5C3_F30], [null, R5C4_F10, null, R5C4_F30]],
  [[null, R6C1_F10, null, R6C1_F30], [null, R6C2_F10, null, R6C2_F30], [null, R6C3_F10, null, R6C3_F30], [null, R6C4_F10, null, R6C4_F30]],
];

// ---------------- layout ----------------
const COL_X = [75, 278, 482, 684];
const ROW_Y = [192, 346, 500, 654, 808, 962];
const PANEL_W = 195;
const PANEL_H = 146;
const AXIS_L = 50;
const AXIS_B = 85;
const PAD_V = 8;

function violinShape(v: any, cat: number) {
  let hi: number, lo: number, comps: any[];
  if (Array.isArray(v[2])) {
    hi = v[0]; lo = v[1];
    comps = v.slice(2).map((m: number[]) => ({ m: m[0], w: m[1], sLo: m[2], sHi: m[2] }));
  } else {
    hi = v[0]; lo = v[2];
    comps = [{ m: v[1], w: v[3], sLo: Math.max((v[1] - v[2]) / 2.3, 0.02), sHi: Math.max((v[0] - v[1]) / 2.3, 0.02) }];
  }
  const n = comps.length > 1 ? 160 : 64;
  const pts: any[] = [];
  for (let i = 0; i <= n; i++) {
    const l = lo + ((hi - lo) * i) / n;
    let w = 0;
    for (const c of comps) {
      const s = l < c.m ? c.sLo : c.sHi;
      const z = (l - c.m) / s;
      w += c.w * Math.exp(-0.5 * z * z);
    }
    pts.push({ x: cat + w, y: Math.pow(10, l) });
  }
  return { pts, lo, hi };
}

function fmtExp(v: number) {
  const e = Math.round(Math.log10(v));
  return '1e' + (e < 0 ? '-' : '+') + String(Math.abs(e)).padStart(2, '0');
}

const framePlugin = {
  id: 'panelFrame',
  afterDraw(chart: any) {
    const { ctx, chartArea: a } = chart;
    ctx.save();
    ctx.strokeStyle = '#333333';
    ctx.lineWidth = 1.3;
    ctx.strokeRect(a.left + 0.65, a.top + 0.65, a.right - a.left - 1.3, a.bottom - a.top - 1.3);
    ctx.restore();
  },
};

function Panel({ r, c }: { r: number; c: number }) {
  const ref = useRef<HTMLCanvasElement>(null);
  const isBottom = r === 5;
  const isLeft = c === 0;
  const extL = isLeft || isBottom ? AXIS_L : 0;
  const extB = isBottom ? AXIS_B : 0;
  const padT = PAD_V;
  const padB = isBottom ? 0 : PAD_V;
  const W = PANEL_W + extL;
  const H = PANEL_H + extB + padT + padB;

  useEffect(() => {
    const datasets: any[] = [];
    const fr = PANELS[r][c];
    for (let f = 3; f >= 0; f--) {
      const series = fr[f];
      if (!series) continue;
      const order = 3 - f;
      const base: any[] = [];
      series.forEach((v: any, i: number) => {
        const cat = i + 1;
        const { pts, lo, hi } = violinShape(v, cat);
        datasets.push({
          data: pts,
          borderColor: FRACTION_COLORS[f],
          backgroundColor: FRACTION_FILLS[f],
          borderWidth: 1.3,
          fill: { value: cat },
          pointRadius: 0,
          pointHoverRadius: 0,
          tension: 0,
          order,
        });
        base.push({ x: cat, y: Math.pow(10, lo) }, { x: cat, y: Math.pow(10, hi) }, { x: null, y: Math.pow(10, hi) });
      });
      datasets.push({
        data: base,
        borderColor: FRACTION_COLORS[f],
        borderWidth: 1.3,
        fill: false,
        pointRadius: 0,
        pointHoverRadius: 0,
        spanGaps: false,
        order,
      });
    }

    const chart = new Chart(ref.current as HTMLCanvasElement, {
      type: 'line',
      data: { datasets },
      plugins: [framePlugin],
      options: {
        indexAxis: 'y',
        animation: false,
        responsive: false,
        devicePixelRatio: 1,
        events: [],
        layout: { padding: { top: padT, bottom: padB, left: 0, right: 0 }, autoPadding: false },
        plugins: { legend: { display: false }, tooltip: { enabled: false } },
        scales: {
          x: {
            type: 'linear',
            position: 'bottom',
            min: X_MIN,
            max: X_MAX,
            afterBuildTicks: (s: any) => { s.ticks = CATEGORIES.map((_, i) => ({ value: i + 1 })); },
            afterFit: (s: any) => { s.height = extB; s.paddingLeft = 0; s.paddingRight = 0; s.paddingTop = 0; s.paddingBottom = 0; },
            ticks: {
              display: isBottom,
              autoSkip: false,
              minRotation: 45,
              maxRotation: 45,
              padding: 1,
              color: '#4D4D4D',
              font: { family: SANS, size: 12.2 },
              callback: (v: any) => CATEGORIES[Math.round(Number(v)) - 1],
            },
            grid: { color: '#EBEBEB', lineWidth: 1.3, drawTicks: isBottom, tickLength: 4, tickColor: '#333333', tickWidth: 1.1 },
            border: { display: false },
          },
          y: {
            type: 'logarithmic',
            position: 'left',
            min: Math.pow(10, ROW_LOG_MIN[r]),
            max: Math.pow(10, ROW_LOG_MAX[r]),
            afterBuildTicks: (s: any) => { s.ticks = ROW_DECADES[r].map((e) => ({ value: Number('1e' + e) })); },
            afterFit: (s: any) => { s.width = extL; s.paddingLeft = 0; s.paddingRight = 0; s.paddingTop = 0; s.paddingBottom = 0; },
            ticks: {
              display: isLeft,
              padding: 4,
              color: '#4D4D4D',
              font: { family: SANS, size: 12.2 },
              callback: (v: any) => fmtExp(Number(v)),
            },
            grid: { color: '#EBEBEB', lineWidth: 1.3, drawTicks: isLeft, tickLength: 4, tickColor: '#333333', tickWidth: 1.1 },
            border: { display: false },
          },
        },
      } as any,
    });
    return () => chart.destroy();
  }, [r, c]);

  return (
    <canvas
      ref={ref}
      width={W}
      height={H}
      style={{ position: 'absolute', left: COL_X[c] - extL, top: ROW_Y[r] - padT, width: W, height: H }}
    />
  );
}

function Strip({ left, top, width, height, text, vertical }: any) {
  return (
    <div
      style={{
        position: 'absolute', left, top, width, height, boxSizing: 'border-box',
        background: '#D9D9D9', border: '1px solid #333333',
        display: 'flex', alignItems: 'center', justifyContent: 'center',
        fontFamily: SANS, fontSize: 12.7, color: '#1A1A1A', whiteSpace: 'nowrap',
      }}
    >
      <span style={vertical ? { writingMode: 'vertical-rl' } : undefined}>{text}</span>
    </div>
  );
}

export default function App() {
  const panels: any[] = [];
  for (let r = 0; r < 6; r++) for (let c = 0; c < 4; c++) panels.push(<Panel key={r + '-' + c} r={r} c={c} />);

  return (
    <div style={{ position: 'absolute', left: 0, top: 0, width: 948, height: 1237, background: '#FFFFFF', overflow: 'hidden' }}>
      {/* page header */}
      <div style={{ position: 'absolute', left: 127, top: 3, width: 700, textAlign: 'center', fontFamily: SERIF, fontSize: 19.5, lineHeight: '19px', color: '#000', whiteSpace: 'nowrap' }}>
        Explainable Outlier Detection for Multivariate Functional Data
      </div>
      <div style={{ position: 'absolute', left: 760, top: 3, width: 180, textAlign: 'right', fontFamily: SERIF, fontSize: 19.5, lineHeight: '19px', fontVariant: 'small-caps', color: '#000', whiteSpace: 'nowrap' }}>
        A Preprint
      </div>
      <div style={{ position: 'absolute', left: 8, top: 27, width: 932, height: 1, background: '#000' }} />

      {/* column strips */}
      <Strip left={75} top={111} width={805} height={26} text={TOP_LABEL} />
      <Strip left={75} top={138} width={399} height={26} text={TAU_LABELS[0]} />
      <Strip left={482} top={138} width={398} height={26} text={TAU_LABELS[1]} />
      {COL_LABELS.map((t, i) => (
        <Strip key={'cl' + i} left={COL_X[i]} top={165} width={PANEL_W + 1} height={27} text={t} />
      ))}

      {/* row strips */}
      {ROW_LABELS.map((t, i) => (
        <Strip key={'rl' + i} left={879} top={ROW_Y[i]} width={28} height={PANEL_H} text={t} vertical />
      ))}
      <Strip left={907} top={ROW_Y[0]} width={27} height={ROW_Y[2] + PANEL_H - ROW_Y[0]} text={P_LABELS[0]} vertical />
      <Strip left={907} top={ROW_Y[3]} width={27} height={ROW_Y[5] + PANEL_H - ROW_Y[3]} text={P_LABELS[1]} vertical />

      {panels}

      {/* y axis title */}
      <div style={{ position: 'absolute', left: 11, top: 500, width: 20, height: 300, display: 'flex', alignItems: 'center', justifyContent: 'center' }}>
        <span style={{ writingMode: 'vertical-rl', transform: 'rotate(180deg)', fontFamily: SANS, fontSize: 15.5, color: '#000', whiteSpace: 'nowrap' }}>{Y_TITLE}</span>
      </div>

      {/* legend */}
      <div style={{ position: 'absolute', left: 239, top: 1208, height: 20, display: 'flex', alignItems: 'center', fontFamily: SANS, fontSize: 15.8, color: '#000', whiteSpace: 'nowrap' }}>
        {LEGEND_TITLE}
      </div>
      {FRACTIONS.map((fr, i) => {
        const sx = [484, 549, 608, 667][i];
        return (
          <React.Fragment key={'lg' + i}>
            <div style={{ position: 'absolute', left: sx, top: 1206, width: 24, height: 24, boxSizing: 'border-box', background: FRACTION_FILLS[i], border: '1.8px solid ' + FRACTION_COLORS[i] }} />
            <div style={{ position: 'absolute', left: sx + 33, top: 1208, height: 20, display: 'flex', alignItems: 'center', fontFamily: SANS, fontSize: 12.2, color: '#000', whiteSpace: 'nowrap' }}>{fr}</div>
          </React.Fragment>
        );
      })}
    </div>
  );
}
